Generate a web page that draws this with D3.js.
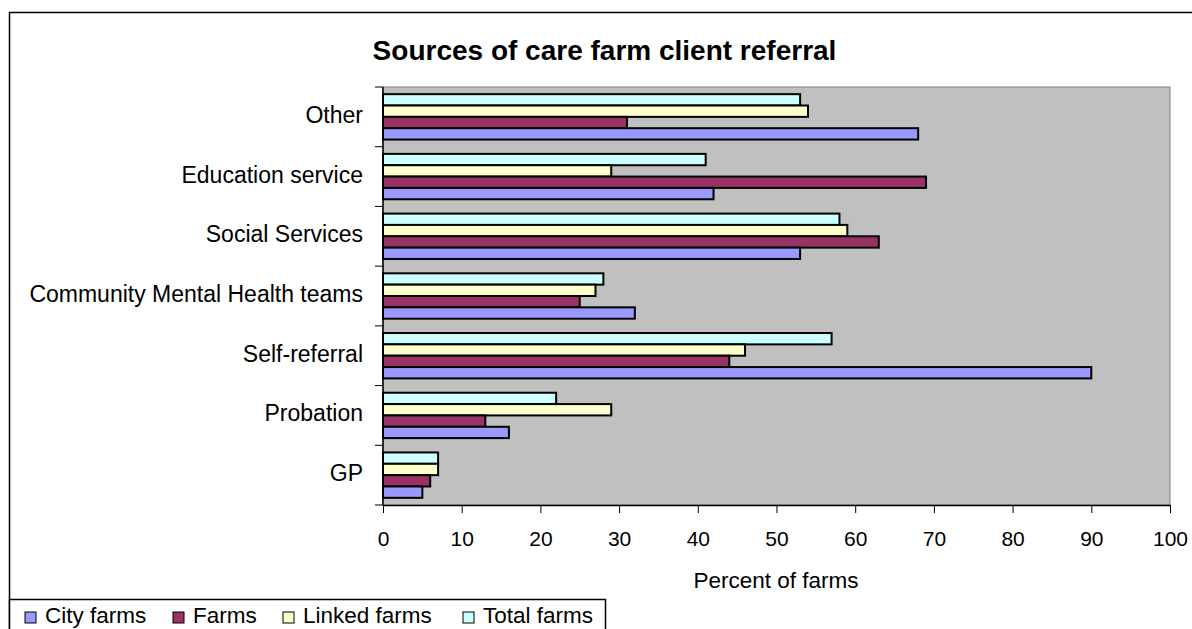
<!DOCTYPE html>
<html><head><meta charset="utf-8">
<script src="https://cdn.jsdelivr.net/npm/d3@7"></script>
<style>body{margin:0;background:#fff;overflow:hidden;} svg{display:block;font-family:Arial,"Liberation Sans",sans-serif;}</style>
</head><body>
<svg id="c" width="1192" height="629"></svg>
<script>
const categories = ["Other","Education service","Social Services","Community Mental Health teams","Self-referral","Probation","GP"];
const seriesNames = ["Total farms","Linked farms","Farms","City farms"];
const totalFarms  = [53,41,58,28,57,22,7];
const linkedFarms = [54,29,59,27,46,29,7];
const farms       = [31,69,63,25,44,13,6];
const cityFarms   = [68,42,53,32,90,16,5];
const xTicks = [0,10,20,30,40,50,60,70,80,90,100];
const legendOrder = ["City farms","Farms","Linked farms","Total farms"];
const colors = {"City farms":"#9999FF","Farms":"#993366","Linked farms":"#FFFFCC","Total farms":"#CCFFFF"};
const seriesValues = {"Total farms":totalFarms,"Linked farms":linkedFarms,"Farms":farms,"City farms":cityFarms};

const svg = d3.select("#c");
// outer border
svg.append("rect").attr("x",9.5).attr("y",12.5).attr("width",1185).attr("height",640).attr("fill","#fff").attr("stroke","#000").attr("stroke-width",1.5);

const L=383,R=1170,T=87,B=505;
const x = d3.scaleLinear().domain([0,100]).range([L,R]);
const y = d3.scaleBand().domain(categories).range([T,B]).paddingInner(0.24).paddingOuter(0.12);
const ys = d3.scaleBand().domain(seriesNames).range([0,y.bandwidth()]);

svg.append("rect").attr("x",L).attr("y",T).attr("width",R-L).attr("height",B-T).attr("fill","#C0C0C0").attr("stroke","#808080").attr("stroke-width",1);

svg.append("text").attr("x",604.5).attr("y",60).attr("text-anchor","middle").attr("font-size",28).attr("font-weight","bold").text("Sources of care farm client referral");

const g = svg.append("g");
categories.forEach((c,i)=>{
  seriesNames.forEach(s=>{
    g.append("rect").attr("x",x(0)).attr("y",y(c)+ys(s)).attr("width",x(seriesValues[s][i])-x(0)).attr("height",ys.bandwidth())
     .attr("fill",colors[s]).attr("stroke","#000").attr("stroke-width",2);
  });
});

// y axis
const yStep = (B-T)/categories.length;
const ya = svg.append("g");
ya.append("line").attr("x1",L).attr("x2",L).attr("y1",T).attr("y2",B).attr("stroke","#000").attr("stroke-width",1.5);
d3.range(categories.length+1).forEach(i=>{
  ya.append("line").attr("x1",L-8).attr("x2",L).attr("y1",T+i*yStep).attr("y2",T+i*yStep).attr("stroke","#000");
});
categories.forEach((c,i)=>{
  ya.append("text").attr("x",363).attr("y",T+i*yStep+yStep/2-2).attr("dy","0.35em").attr("text-anchor","end").attr("font-size",23).text(c);
});

// x axis
const xa = svg.append("g").attr("transform",`translate(0,${B})`)
  .call(d3.axisBottom(x).tickValues(xTicks).tickSize(8).tickPadding(18).tickSizeOuter(0));
xa.select(".domain").attr("stroke","#000").attr("stroke-width",1.5);
xa.selectAll("text").attr("font-size",21).attr("font-family","Arial,'Liberation Sans',sans-serif").attr("fill","#000");
svg.append("text").attr("x",776).attr("y",588).attr("text-anchor","middle").attr("font-size",22.5).text("Percent of farms");

// legend
const lg = svg.append("g");
lg.append("rect").attr("x",9.5).attr("y",599.5).attr("width",596).attr("height",40).attr("fill","#fff").attr("stroke","#000").attr("stroke-width",1.5);
const lx = [25,173,283,463];
legendOrder.forEach((s,i)=>{
  lg.append("rect").attr("x",lx[i]).attr("y",612).attr("width",11).attr("height",11).attr("fill",colors[s]).attr("stroke","#000").attr("stroke-width",1);
  lg.append("text").attr("x",lx[i]+20).attr("y",623).attr("font-size",22.5).text(s);
});
</script>
</body></html>
